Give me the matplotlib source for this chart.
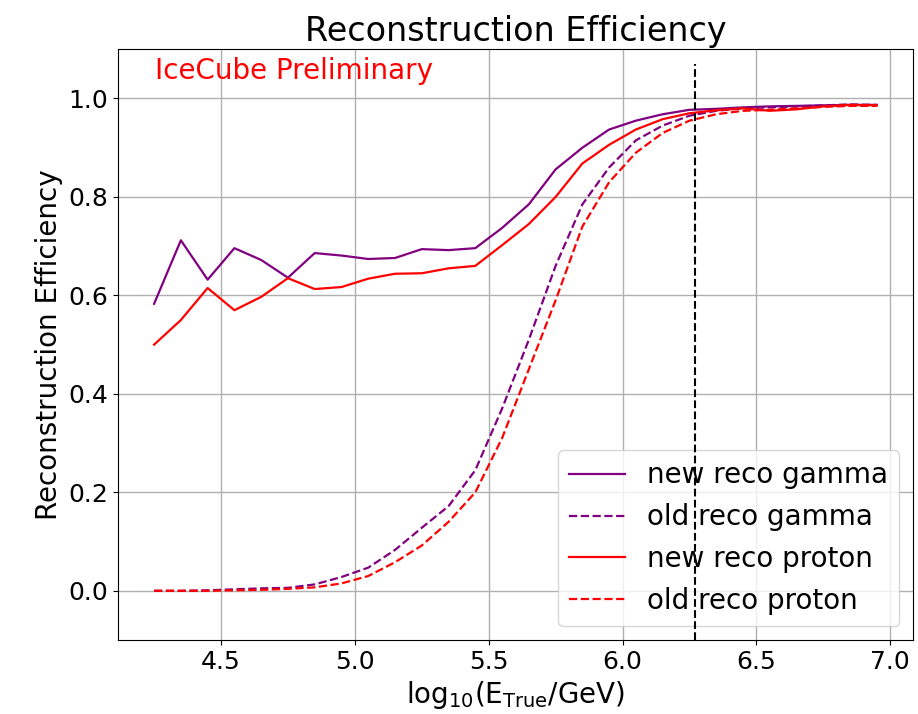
import matplotlib
matplotlib.use('Agg')
import matplotlib.pyplot as plt

# log10(E_true/GeV) bin centres
log_e = [4.25, 4.35, 4.45, 4.55, 4.65, 4.75, 4.85, 4.95, 5.05, 5.15,
         5.25, 5.35, 5.45, 5.55, 5.65, 5.75, 5.85, 5.95, 6.05, 6.15,
         6.25, 6.35, 6.45, 6.55, 6.65, 6.75, 6.85, 6.95]

gamma_new = [0.583, 0.712, 0.632, 0.696, 0.672, 0.636, 0.686, 0.681, 0.674, 0.676,
             0.694, 0.692, 0.696, 0.737, 0.785, 0.856, 0.900, 0.937, 0.955, 0.968,
             0.977, 0.979, 0.982, 0.984, 0.985, 0.986, 0.987, 0.987]
gamma_old = [0.0, 0.0, 0.001, 0.003, 0.005, 0.006, 0.013, 0.028, 0.047, 0.083,
             0.128, 0.172, 0.245, 0.37, 0.51, 0.66, 0.785, 0.86, 0.915, 0.945,
             0.965, 0.975, 0.98, 0.982, 0.984, 0.986, 0.988, 0.987]
proton_new = [0.50, 0.55, 0.615, 0.57, 0.597, 0.635, 0.613, 0.617, 0.634, 0.644,
              0.645, 0.655, 0.660, 0.702, 0.745, 0.800, 0.868, 0.906, 0.937, 0.958,
              0.970, 0.976, 0.980, 0.975, 0.978, 0.984, 0.987, 0.986]
proton_old = [0.0, 0.0, 0.0, 0.001, 0.002, 0.004, 0.007, 0.015, 0.03, 0.058,
              0.092, 0.14, 0.20, 0.31, 0.45, 0.59, 0.74, 0.83, 0.89, 0.93,
              0.955, 0.968, 0.975, 0.977, 0.98, 0.983, 0.985, 0.985]

e_cut = 6.27

fig = plt.figure(figsize=(9.18, 7.14), dpi=100)
ax = fig.add_axes([0.1285, 0.1036, 0.866, 0.8274])

ax.plot(log_e, gamma_new, color='purple', lw=1.6, label='new reco gamma')
ax.plot(log_e, gamma_old, color='purple', lw=1.6, ls='--', label='old reco gamma')
ax.plot(log_e, proton_new, color='red', lw=1.6, label='new reco proton')
ax.plot(log_e, proton_old, color='red', lw=1.6, ls='--', label='old reco proton')

ax.set_ylim(-0.1, 1.1)
ax.grid(True, color='#b0b0b0', lw=1)
ax.tick_params(labelsize=18)
ax.set_xlabel(r'$\mathrm{log_{10}(E_{True}/GeV)}$', fontsize=20)
ax.set_ylabel('Reconstruction Efficiency', fontsize=20)
ax.set_title('Reconstruction Efficiency', fontsize=24)
ax.text(0.047, 0.964, 'IceCube Preliminary', color='red', fontsize=20,
        transform=ax.transAxes, va='center')
ax.legend(loc='lower right', fontsize=20)
ax.vlines(e_cut, -0.1, 1.07, colors='black', linestyles='--', lw=1.5, zorder=6)

plt.savefig('out.png', dpi=100)
